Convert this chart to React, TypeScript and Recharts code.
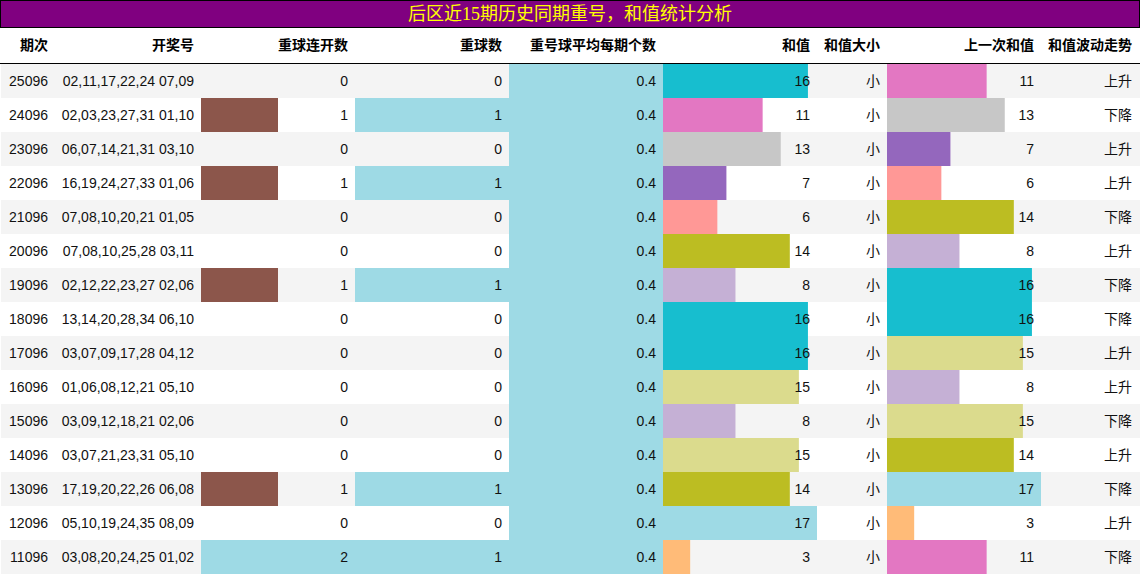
import React from 'react';
import { BarChart, Bar, XAxis, YAxis, Cell } from 'recharts';

const title = '后区近15期历史同期重号，和值统计分析';
const headers = ['期次', '开奖号', '重球连开数', '重球数', '重号球平均每期个数', '和值', '和值大小', '上一次和值', '和值波动走势'];

const periods = ['25096', '24096', '23096', '22096', '21096', '20096', '19096', '18096', '17096', '16096', '15096', '14096', '13096', '12096', '11096'];
const draws = [
  '02,11,17,22,24 07,09',
  '02,03,23,27,31 01,10',
  '06,07,14,21,31 03,10',
  '16,19,24,27,33 01,06',
  '07,08,10,20,21 01,05',
  '07,08,10,25,28 03,11',
  '02,12,22,23,27 02,06',
  '13,14,20,28,34 06,10',
  '03,07,09,17,28 04,12',
  '01,06,08,12,21 05,10',
  '03,09,12,18,21 02,06',
  '03,07,21,23,31 05,10',
  '17,19,20,22,26 06,08',
  '05,10,19,24,35 08,09',
  '03,08,20,24,25 01,02',
];
const repeatStreak = [0, 1, 0, 1, 0, 0, 1, 0, 0, 0, 0, 0, 1, 0, 2];
const repeatCount = [0, 1, 0, 1, 0, 0, 1, 0, 0, 0, 0, 0, 1, 0, 1];
const avgRepeat = [0.4, 0.4, 0.4, 0.4, 0.4, 0.4, 0.4, 0.4, 0.4, 0.4, 0.4, 0.4, 0.4, 0.4, 0.4];
const sums = [16, 11, 13, 7, 6, 14, 8, 16, 16, 15, 8, 15, 14, 17, 3];
const sizeLabels = ['小', '小', '小', '小', '小', '小', '小', '小', '小', '小', '小', '小', '小', '小', '小'];
const prevSums = [11, 13, 7, 6, 14, 8, 16, 16, 15, 8, 15, 14, 17, 3, 11];
const trends = ['上升', '下降', '上升', '上升', '下降', '上升', '下降', '下降', '上升', '上升', '下降', '上升', '下降', '上升', '下降'];

const sumColors: Record<number, string> = {
  3: '#FFBB78',
  6: '#FF9896',
  7: '#9467BD',
  8: '#C5B0D5',
  11: '#E377C2',
  13: '#C7C7C7',
  14: '#BCBD22',
  15: '#DBDB8D',
  16: '#17BECF',
  17: '#9EDAE5',
};
const streakColors: Record<number, string> = { 0: '#9EDAE5', 1: '#8C564B', 2: '#9EDAE5' };
const lightBlue = '#9EDAE5';

const colEdges = [0, 55, 201, 355, 509, 663, 817, 887, 1041, 1139];
const TOP = 64;
const ROW_H = 34;
const W = 1140;
const H = 575;

const rows = periods.map((p, i) => ({
  period: p,
  streak: repeatStreak[i],
  count: repeatCount[i],
  avg: avgRepeat[i],
  sum: sums[i],
  prev: prevSums[i],
}));

const cellTexts: string[][] = periods.map((p, i) => [
  p,
  draws[i],
  String(repeatStreak[i]),
  String(repeatCount[i]),
  String(avgRepeat[i]),
  String(sums[i]),
  sizeLabels[i],
  String(prevSums[i]),
  trends[i],
]);

const bodyFont = '"Liberation Sans", Arial, "Noto Sans CJK SC", sans-serif';

function BarColumn({ col, dataKey, max, colorFor }: { col: number; dataKey: string; max: number; colorFor: (v: number) => string }) {
  const left = colEdges[col];
  const width = colEdges[col + 1] - colEdges[col];
  return (
    <div style={{ position: 'absolute', left, top: TOP, width, height: ROW_H * rows.length }}>
      <BarChart
        layout="vertical"
        width={width}
        height={ROW_H * rows.length}
        data={rows}
        margin={{ top: 0, right: 0, bottom: 0, left: 0 }}
        barCategoryGap={0}
        barGap={0}
      >
        <XAxis type="number" hide domain={[0, max]} allowDataOverflow />
        <YAxis type="category" dataKey="period" hide width={0} />
        <Bar dataKey={dataKey} isAnimationActive={false}>
          {rows.map((r: any, i) => (
            <Cell key={i} fill={colorFor(r[dataKey])} />
          ))}
        </Bar>
      </BarChart>
    </div>
  );
}

export default function App() {
  return (
    <div style={{ position: 'relative', width: W, height: H, background: '#fff', overflow: 'hidden', fontFamily: bodyFont }}>
      <style>{`body{margin:0;}`}</style>
      {/* title */}
      <div
        style={{
          position: 'absolute',
          left: 0,
          top: 0,
          width: W,
          height: 28,
          boxSizing: 'border-box',
          border: '1px solid #000',
          background: '#800080',
          color: '#FFFF00',
          fontFamily: '"Liberation Serif", "Noto Sans CJK SC", serif',
          fontSize: 18,
          lineHeight: '26px',
          textAlign: 'center',
        }}
      >
        {title}
      </div>
      {/* header */}
      {headers.map((h, c) => (
        <div
          key={c}
          style={{
            position: 'absolute',
            left: colEdges[c],
            top: 28,
            width: colEdges[c + 1] - colEdges[c] - 7,
            height: 35,
            lineHeight: '35px',
            textAlign: 'right',
            fontSize: 14,
            fontWeight: 'bold',
            color: '#000',
            whiteSpace: 'nowrap',
          }}
        >
          {h}
        </div>
      ))}
      <div style={{ position: 'absolute', left: 0, top: 63, width: W, height: 1, background: '#000' }} />
      {/* row stripes */}
      {periods.map((p, i) => (
        <div
          key={p}
          style={{
            position: 'absolute',
            left: 1,
            top: TOP + i * ROW_H,
            width: W - 1,
            height: ROW_H,
            background: i % 2 === 0 ? '#F4F4F4' : '#FFFFFF',
          }}
        />
      ))}
      {/* bar columns */}
      <BarColumn col={2} dataKey="streak" max={2} colorFor={(v) => streakColors[v] || lightBlue} />
      <BarColumn col={3} dataKey="count" max={1} colorFor={() => lightBlue} />
      <BarColumn col={4} dataKey="avg" max={0.4} colorFor={() => lightBlue} />
      <BarColumn col={5} dataKey="sum" max={17} colorFor={(v) => sumColors[v] || lightBlue} />
      <BarColumn col={7} dataKey="prev" max={17} colorFor={(v) => sumColors[v] || lightBlue} />
      {/* cell texts */}
      {cellTexts.map((row, i) =>
        row.map((t, c) => (
          <div
            key={`${i}-${c}`}
            style={{
              position: 'absolute',
              left: colEdges[c],
              top: TOP + i * ROW_H,
              width: colEdges[c + 1] - colEdges[c] - 7,
              height: ROW_H,
              lineHeight: `${ROW_H}px`,
              textAlign: 'right',
              fontSize: 14,
              color: '#111',
              whiteSpace: 'nowrap',
            }}
          >
            {t}
          </div>
        ))
      )}
    </div>
  );
}
